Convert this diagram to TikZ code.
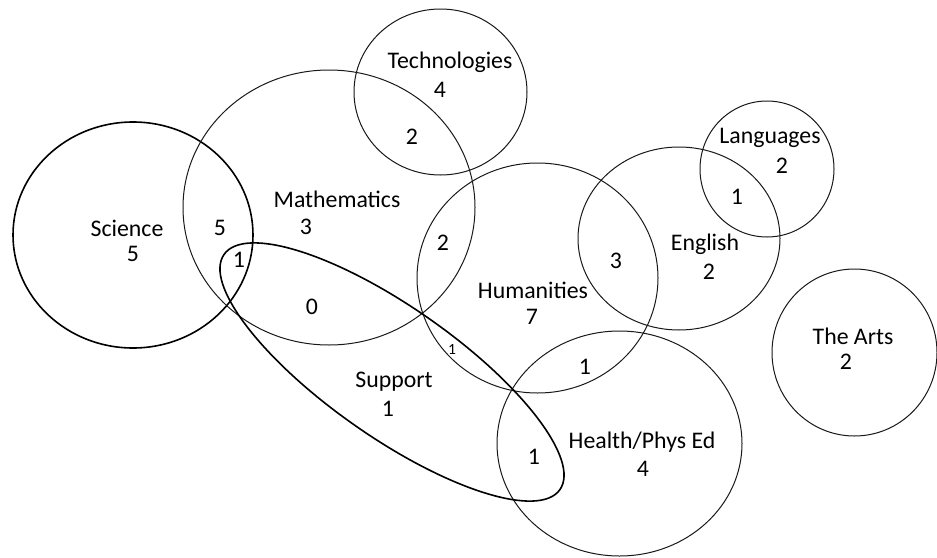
\documentclass[tikz,border=0pt]{standalone}
\usepackage{fontspec}
\setmainfont{Carlito}
\begin{document}
\begin{tikzpicture}[x=1pt,y=-1pt,
  set/.style={draw=black!90, line width=1pt},
  boldset/.style={draw=black, line width=1.6pt},
  lbl/.style={inner sep=0pt, font=\fontsize{23.8}{27}\selectfont},
  small/.style={inner sep=0pt, font=\fontsize{15.5}{18}\selectfont}]
\useasboundingbox[fill=white] (0,0) rectangle (937,557);
% sets
\draw[boldset] (133,235) ellipse [x radius=120pt, y radius=113pt];
\draw[set] (329,207.5) ellipse [x radius=146pt, y radius=137.5pt];
\draw[set] (440.5,92) ellipse [x radius=86.5pt, y radius=83pt];
\draw[set] (537.5,278) ellipse [x radius=120.5pt, y radius=115pt];
\draw[set] (679,238.5) ellipse [x radius=101pt, y radius=91.5pt];
\draw[set] (767,169) ellipse [x radius=67pt, y radius=68pt];
\draw[set] (854.5,352.5) ellipse [x radius=82.5pt, y radius=83.5pt];
\draw[set] (619.5,443.5) ellipse [x radius=122.5pt, y radius=112.5pt];
\draw[boldset, shift={(392,372)}, rotate=-35] (0,0) ellipse [x radius=205pt, y radius=65pt];
% labels
\node[lbl] (sci) at (127,228) {Science};
\node[lbl] (scin) at (133,254) {5};
\node[lbl] (scimath) at (220,228) {5};
\node[lbl] (scimathsup) at (239,260) {1};
\node[lbl] (math) at (337,199) {Mathematics};
\node[lbl] (mathn) at (306,227) {3};
\node[lbl] (mathsup) at (312,307) {0};
\node[lbl] (mathhum) at (443,243) {2};
\node[lbl] (tech) at (450,62) {Technologies};
\node[lbl] (techn) at (440,90) {4};
\node[lbl] (techmath) at (412,137) {2};
\node[lbl] (hum) at (533,290) {Humanities};
\node[lbl] (humn) at (532,317) {7};
\node[small] (humsup) at (452,350) {1};
\node[lbl] (humeng) at (616,261) {3};
\node[lbl] (eng) at (705,244) {English};
\node[lbl] (engn) at (709,272) {2};
\node[lbl] (lang) at (770,138) {Languages};
\node[lbl] (langn) at (782,166) {2};
\node[lbl] (langeng) at (737,197) {1};
\node[lbl] (sup) at (394,382) {Support};
\node[lbl] (supn) at (388,409) {1};
\node[lbl] (humhealth) at (585,367) {1};
\node[lbl] (suphealth) at (534,457) {1};
\node[lbl] (health) at (642,442) {Health/Phys Ed};
\node[lbl] (healthn) at (643,469) {4};
\node[lbl] (arts) at (853,336) {The Arts};
\node[lbl] (artsn) at (846,362) {2};
\end{tikzpicture}
\end{document}
